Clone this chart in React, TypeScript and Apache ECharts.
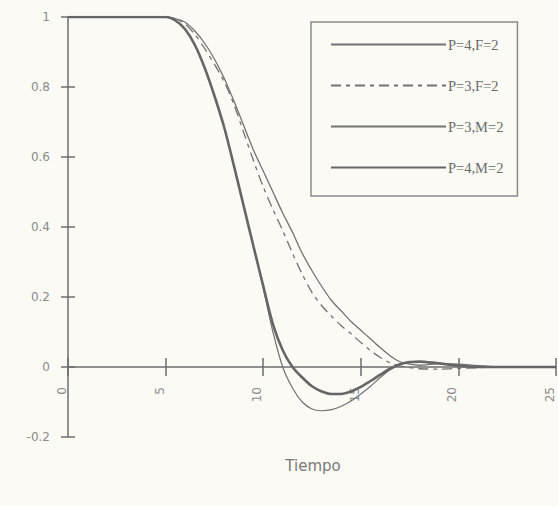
import React, { useEffect, useRef } from "react";
import * as echarts from "echarts";

const tiempo = [0, 1, 2, 3, 4, 5, 5.5, 6, 6.5, 7, 7.5, 8, 8.5, 9, 9.5, 10, 10.5, 11, 11.5, 12, 12.5, 13, 13.5, 14, 14.5, 15, 15.5, 16, 16.5, 17, 17.5, 18, 19, 20, 21, 22, 23, 24, 25];

const p4f2 = [1, 1, 1, 1, 1, 1, 0.995, 0.985, 0.96, 0.925, 0.88, 0.825, 0.76, 0.69, 0.62, 0.56, 0.5, 0.44, 0.385, 0.325, 0.275, 0.23, 0.19, 0.16, 0.13, 0.105, 0.08, 0.055, 0.032, 0.015, 0.008, 0.005, 0.01, 0.008, 0.004, 0.001, 0, 0, 0];
const p3f2 = [1, 1, 1, 1, 1, 1, 0.995, 0.98, 0.95, 0.91, 0.865, 0.815, 0.75, 0.67, 0.59, 0.515, 0.45, 0.39, 0.325, 0.265, 0.213, 0.175, 0.145, 0.118, 0.095, 0.07, 0.047, 0.027, 0.012, 0.003, -0.002, -0.005, -0.006, -0.004, -0.002, 0, 0, 0, 0];
const p3m2 = [1, 1, 1, 1, 1, 1, 0.99, 0.965, 0.92, 0.855, 0.775, 0.685, 0.575, 0.46, 0.345, 0.225, 0.1, 0.0, -0.06, -0.1, -0.12, -0.125, -0.122, -0.112, -0.097, -0.077, -0.055, -0.03, -0.008, 0.008, 0.015, 0.017, 0.012, 0.005, 0.001, 0, 0, 0, 0];
const p4m2 = [1, 1, 1, 1, 1, 1, 0.99, 0.965, 0.92, 0.855, 0.775, 0.685, 0.575, 0.46, 0.345, 0.232, 0.122, 0.048, 0.0, -0.03, -0.055, -0.07, -0.077, -0.077, -0.07, -0.057, -0.04, -0.022, -0.005, 0.008, 0.014, 0.015, 0.01, 0.004, 0, 0, 0, 0, 0];

const seriesNames = ["P=4,F=2", "P=3,F=2", "P=3,M=2", "P=4,M=2"];
const xTicks = [0, 5, 10, 15, 20, 25];
const yTicks = [-0.2, 0, 0.2, 0.4, 0.6, 0.8, 1];
const xTitle = "Tiempo";

const pair = (ys: number[]) => tiempo.map((t, i) => [t, ys[i]]);

export default function App() {
  const ref = useRef<HTMLDivElement>(null);
  useEffect(() => {
    const chart = echarts.init(ref.current!, null, { renderer: "svg" });
    const axisColor = "#6e6e6e";
    const labelColor = "#8a8a8a";
    const lineColor = "#727272";
    const xBase = {
      type: "value",
      min: xTicks[0],
      max: xTicks[xTicks.length - 1],
      interval: 5,
      splitLine: { show: false },
    };
    const yBase = {
      type: "value",
      min: yTicks[0],
      max: yTicks[yTicks.length - 1],
      interval: 0.2,
      splitLine: { show: false },
    };
    chart.setOption({
      animation: false,
      backgroundColor: "#fbfaf5",
      grid: { left: 68, right: 2, top: 17, bottom: 69, outerBoundsMode: "none" },
      legend: {
        orient: "vertical",
        left: 311,
        top: 22,
        padding: [15, 14, 21, 19],
        itemWidth: 115,
        itemHeight: 14,
        itemGap: 26,
        borderColor: "#8c8c8c",
        borderWidth: 1.5,
        backgroundColor: "#fbfaf5",
        itemStyle: { opacity: 0, borderWidth: 0 },
        textStyle: { fontFamily: "Liberation Serif", fontSize: 14.5, color: "#6a6a6a", width: 66, padding: [0, 0, 0, -3] },
        data: seriesNames,
      },
      xAxis: [
        {
          ...xBase,
          axisLine: { show: true, onZero: true, lineStyle: { color: axisColor, width: 1.5 } },
          axisTick: { show: true, length: 9, lineStyle: { color: axisColor, width: 1.5 } },
          axisLabel: {
            rotate: 90,
            margin: -50,
            verticalAlign: "bottom",
            color: labelColor,
            fontFamily: "DejaVu Sans",
            fontSize: 12,
          },
        },
        {
          ...xBase,
          position: "bottom",
          axisLine: { show: false, onZero: true },
          axisTick: { show: true, inside: true, length: 9, lineStyle: { color: axisColor, width: 1.5 } },
          axisLabel: { show: false },
        },
      ],
      yAxis: [
        {
          ...yBase,
          axisLine: { show: true, onZero: false, lineStyle: { color: axisColor, width: 1.5 } },
          axisTick: { show: true, length: 7, lineStyle: { color: axisColor, width: 1.5 } },
          axisLabel: { margin: 18, color: labelColor, fontFamily: "DejaVu Sans", fontSize: 12 },
        },
        {
          ...yBase,
          position: "left",
          axisLine: { show: false, onZero: false },
          axisTick: { show: true, inside: true, length: 7, lineStyle: { color: axisColor, width: 1.5 } },
          axisLabel: { show: false },
        },
      ],
      graphic: [
        {
          type: "text",
          x: 313,
          y: 458,
          style: {
            text: xTitle,
            align: "center",
            fontFamily: "DejaVu Sans",
            fontSize: 15,
            fill: "#7a7a7a",
          },
        },
      ],
      series: [
        {
          name: seriesNames[0],
          type: "line",
          data: pair(p4f2),
          symbol: "none",
          smooth: 0.3,
          lineStyle: { color: lineColor, width: 1.3 },
          itemStyle: { color: lineColor },
        },
        {
          name: seriesNames[1],
          type: "line",
          data: pair(p3f2),
          symbol: "none",
          smooth: 0.3,
          lineStyle: { color: lineColor, width: 1.3, type: [10, 5, 4, 5] },
          itemStyle: { color: lineColor },
        },
        {
          name: seriesNames[2],
          type: "line",
          data: pair(p3m2),
          symbol: "none",
          smooth: 0.3,
          lineStyle: { color: lineColor, width: 1.2 },
          itemStyle: { color: lineColor },
        },
        {
          name: seriesNames[3],
          type: "line",
          data: pair(p4m2),
          symbol: "none",
          smooth: 0.3,
          lineStyle: { color: "#666666", width: 2.6 },
          itemStyle: { color: "#666666" },
        },
      ],
    });
    return () => chart.dispose();
  }, []);
  return (
    <div
      ref={ref}
      style={{ position: "fixed", left: 0, top: 0, width: 558, height: 506 }}
    />
  );
}
